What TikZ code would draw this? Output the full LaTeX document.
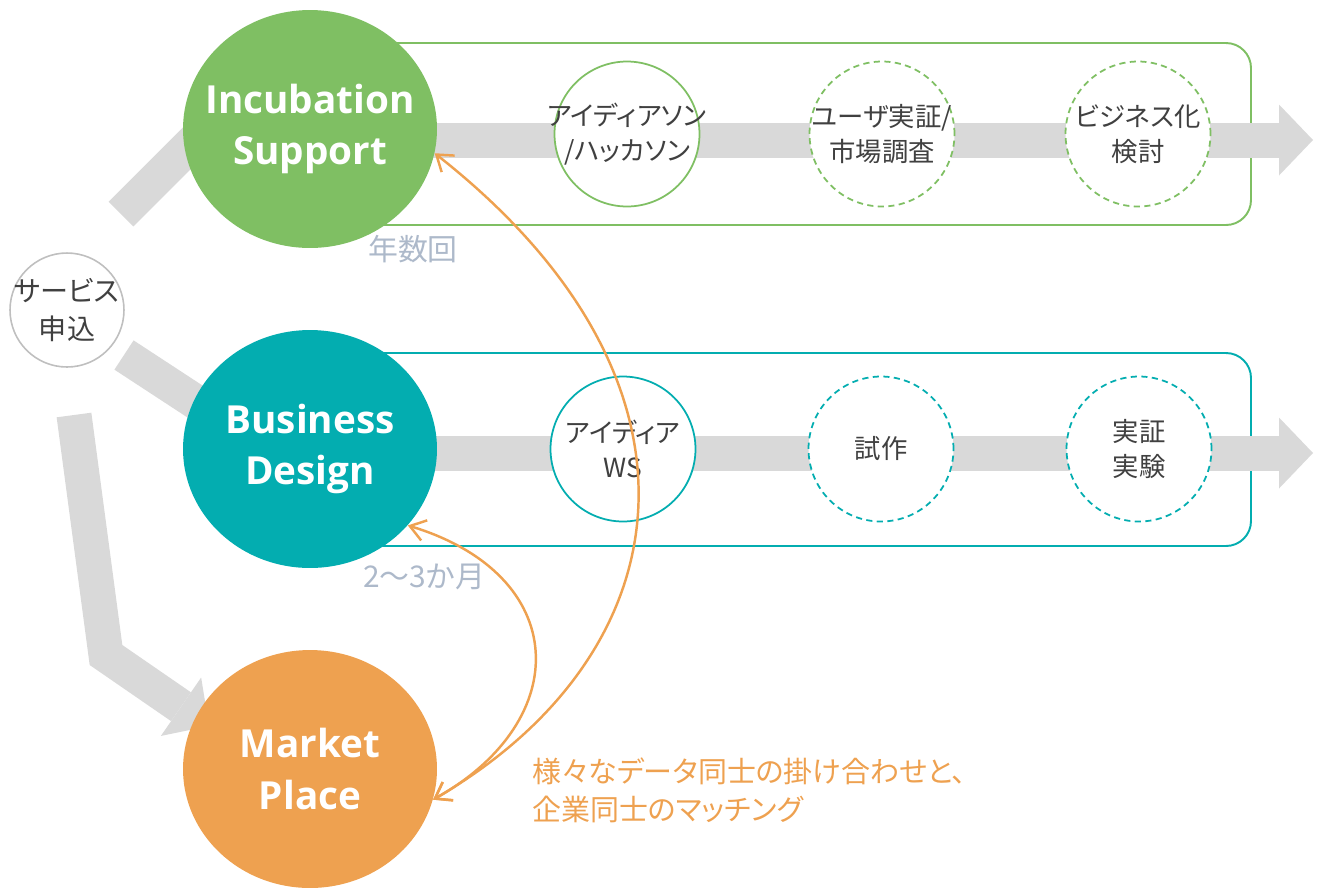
\documentclass[tikz,border=0pt]{standalone}
\usepackage{fontspec}
\setmainfont{Open Sans}
\newfontfamily\jafont{Noto Sans CJK JP}[RawFeature=+palt]
\usetikzlibrary{arrows.meta, shapes.geometric, backgrounds}

\definecolor{incgreen}{HTML}{7FBF63}
\definecolor{bdteal}{HTML}{03ADB0}
\definecolor{mporange}{HTML}{EEA150}
\definecolor{bandgray}{HTML}{D9D9D9}
\definecolor{entrygray}{HTML}{BFBFBF}
\definecolor{ink}{HTML}{404040}
\definecolor{notegray}{HTML}{ADB9CA}

\begin{document}
\begin{tikzpicture}[
  x=0.02cm, y=-0.02cm,
  hub/.style={ellipse, minimum width=5.08cm, minimum height=4.76cm, inner sep=-0.5cm,
              align=center, text=white, font=\fontsize{22}{29.5}\selectfont\bfseries},
  entry/.style={circle, draw=entrygray, line width=0.9pt, minimum size=2.28cm, inner sep=-0.4cm,
                align=center, text=ink, font=\jafont\fontsize{16}{22}\selectfont},
  stage/.style={circle, draw, fill=white, line width=1pt, minimum size=2.9cm, inner sep=-0.7cm,
                align=center, text=ink, font=\jafont\fontsize{15}{19.8}\selectfont},
  plan/.style={stage, dash pattern=on 3.5pt off 2.5pt},
  lane/.style={rounded corners=0.5cm, line width=1.1pt},
  band/.style={draw=bandgray, line width=0.7cm},
  flow/.style={band, -{Triangle[length=0.68cm, width=1.42cm, line width=0pt]}},
  note/.style={text=notegray, font=\jafont\fontsize{17}{20}\selectfont},
  link/.style={draw=mporange, line width=1.4pt,
               {Straight Barb[length=0.3cm, width=0.42cm]}-{Straight Barb[length=0.3cm, width=0.42cm]}}
]
% the three services
\node[hub, fill=incgreen] (inc) at (310,129) {Incubation\\Support};
\node[hub, fill=bdteal]   (bd)  at (310,449) {Business\\Design};
\node[hub, fill=mporange] (mp)  at (310,769) {Market\\Place};
\node[entry] (svc) at (67,310) {サービス\\申込};

% steps of each track
\node[stage, draw=incgreen] (ideathon) at (627,134)  {アイディアソン\\/ハッカソン};
\node[plan,  draw=incgreen] (survey)   at (882,134)  {ユーザ実証/\\市場調査};
\node[plan,  draw=incgreen] (bizplan)  at (1138,134) {ビジネス化\\検討};
\node[stage, draw=bdteal]   (ideaws)   at (623,449)  {アイディア\\WS};
\node[plan,  draw=bdteal]   (proto)    at (881,449)  {試作};
\node[plan,  draw=bdteal]   (pilot)    at (1139,449) {実証\\実験};

\node[note] (freq1) at (413,249) {年数回};
\node[note] (freq2) at (424,577) {2〜3か月};
\node[anchor=west, align=left, text=mporange, font=\jafont\fontsize{16.5}{21.5}\selectfont]
  (match) at (526,790) {様々なデータ同士の掛け合わせと、\\企業同士のマッチング};

\coordinate (inc-tip) at (1313,140);
\coordinate (bd-tip)  at (1313,453);
\coordinate (inc-in)  at (121,214);
\coordinate (inc-end) at (211,124);
\coordinate (bd-in)   at (124,355);
\coordinate (bd-end)  at (234,427);
\coordinate (mp-in)   at (74,415);
\coordinate (mp-bend) at (106,655);
\coordinate (mp-tip)  at (209,726);

\begin{scope}[on background layer]
  \draw[lane, draw=incgreen] (360,43) rectangle (1251,225);
  \draw[lane, draw=bdteal]   (360,353) rectangle (1251,546);
  \draw[flow] (inc.center |- inc-tip) -- (inc-tip);
  \draw[flow] (bd.center |- bd-tip) -- (bd-tip);
  \draw[band] (inc-in) -- (inc-end);
  \draw[band] (bd-in) -- (bd-end);
  \draw[flow, line join=miter] (mp-in) -- (mp-bend) -- (mp-tip);
\end{scope}

% matching between the services
\draw[link] (inc.-11) .. controls (727,383) and (684,654) .. (mp.-14);
\draw[link] (bd.-38) .. controls (571,575) and (575,720) .. (mp.-14);

\pgfresetboundingbox
\path[use as bounding box] (0,0) rectangle (1318,887);
\end{tikzpicture}
\end{document}
